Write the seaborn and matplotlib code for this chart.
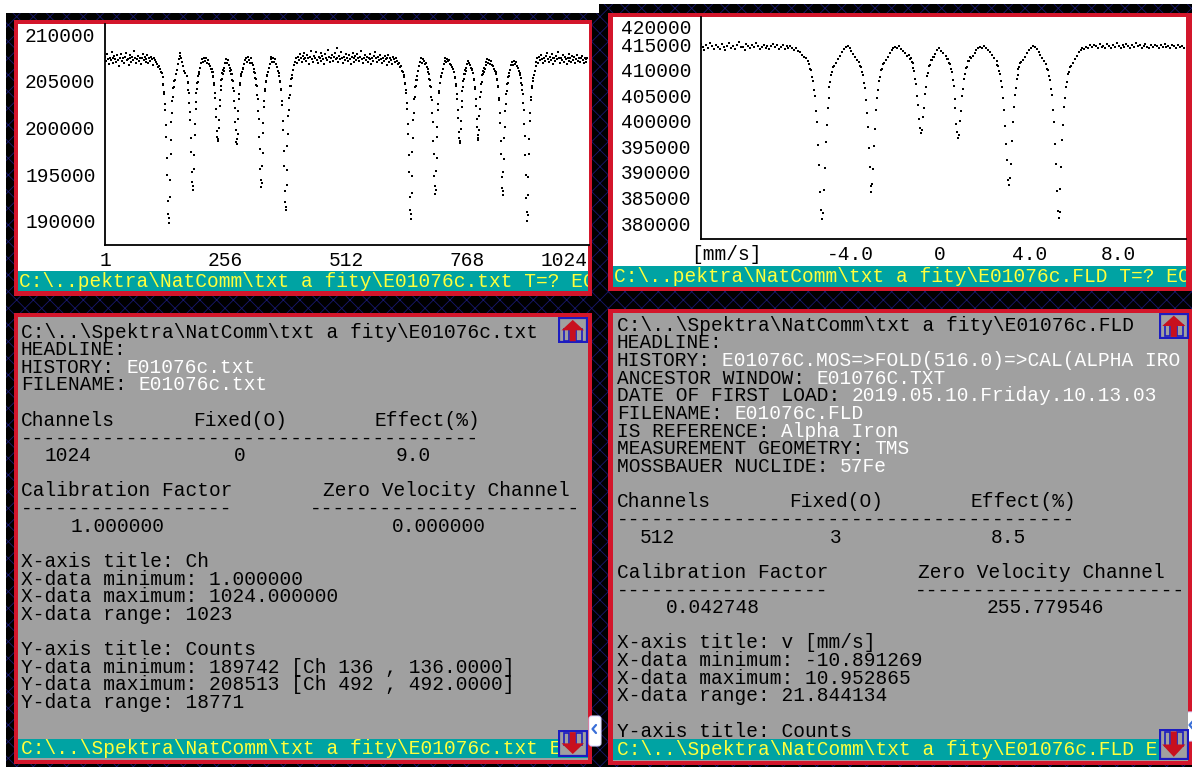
import numpy as np
import pandas as pd
import matplotlib.pyplot as plt
import seaborn as sns
from matplotlib.patches import Rectangle, Polygon, FancyBboxPatch

# ---- raw spectrum, 1024 channels (top left) ----
# baseline stretches are read every 2nd channel, the dips channel by channel
tl_base_0 = [207600, 207100, 207900, 207300, 206800, 207500, 207200, 208100, 207400, 206900,
             207700, 207300, 207000, 207800, 207200, 206600, 207500, 207900, 207100, 207400,
             206900, 207600, 208000, 207200, 207300, 206700, 207800, 207400, 207000, 207600,
             207200, 208200, 207500, 206900, 207300, 207700, 207100, 207500, 206800, 207400,
             207900, 207200, 207600, 207000, 207300, 207800, 206900, 207400, 207100, 207600,
             207300, 206700, 207500, 207200, 207000, 206800, 206500, 206600, 206300, 206000,
             205800]
tl_dip_a = [205400, 204700, 204600, 203800, 203600, 202500, 201900, 200300, 199000, 196700,
            194900, 192100, 190700, 189742, 190300, 192500, 194400, 197100, 198700, 200600,
            201500, 202800, 203300, 204200, 204300, 205000, 205100]
tl_gap_ab = [205700, 206200, 206800, 207300, 207700, 208000, 207500, 207000, 206600, 206100, 205800]
tl_dip_b = [205500, 205500, 204900, 204800, 204000, 203700, 202600, 201700, 200800, 198900,
            197400, 195200, 194100, 193300, 193700, 195500, 197000, 199200, 200400, 202000,
            202700, 203700, 204100, 204800, 204900, 205500, 205700]
tl_gap_bc = [205900, 206400, 206900, 207300, 207000, 207500, 207100, 207400, 206900, 207200,
             206800, 206600, 206300]
tl_dip_c = [206300, 206000, 205900, 205500, 205400, 204800, 204600, 203700, 203200, 202000,
            201100, 199600, 199000, 198500, 198800, 199900, 200800, 202300, 202900, 204000,
            204400, 205100, 205200, 205800, 205700, 206200, 206100]
tl_gap_cd = [206400, 206900, 207300, 206900, 207200, 206700, 206400]
tl_dip_d = [206100, 206200, 205700, 205700, 205100, 205000, 204200, 203900, 202800, 202100,
            200600, 199700, 198400, 198200, 198800, 199300, 200900, 201800, 203100, 203600,
            204600, 204800, 205500, 205700, 206000, 205900, 206300]
tl_gap_de = [206400, 206800, 207200, 207500, 207000, 207600, 207200, 206900, 207400, 206900,
             206700, 206300, 206000]
tl_dip_e = [205800, 205300, 205200, 204600, 204500, 203500, 203100, 201800, 200900, 199000,
            197700, 195500, 194400, 193650, 194000, 195900, 197300, 199400, 200500, 202200,
            202800, 203900, 204100, 204900, 205000, 205600, 205500]
tl_gap_ef = [205900, 206400, 206800, 207300, 207600, 207000, 207400, 207000, 207300, 206800,
             206500, 206100, 205800]
tl_dip_f = [205500, 205000, 204900, 204100, 204000, 202800, 202400, 200700, 199700, 197500,
            195900, 193200, 192000, 191100, 191500, 193800, 195400, 198000, 199300, 201200,
            201900, 203200, 203500, 204500, 204500, 205200, 205300]
tl_base_mid = [205600, 206200, 206700, 207000, 207400, 206900, 207600, 207200, 207900, 207400,
               207000, 207700, 207300, 208000, 207500, 207100, 207800, 207400, 206800, 207600,
               208200, 207300, 207000, 207700, 207500, 208100, 207200, 206900, 207600, 207400,
               208000, 207100, 207700, 207300, 206800, 207900, 207500, 207200, 208300, 207600,
               207000, 207400, 207800, 207100, 207600, 208000, 207300, 208513, 207500, 207000,
               207700, 207300, 208100, 207400, 206900, 207600, 207200, 207900, 207500, 207100,
               207800, 207300, 206800, 207600, 208000, 207400, 207000, 207700, 207200, 207900,
               207500, 207100, 207600, 208200, 207300, 206900, 207500, 207800, 207200, 207600,
               207000, 207400, 207900, 207300, 206800, 207500, 207100, 207700, 208100, 207400,
               207000, 207600, 207200, 207800, 207300, 206900, 207500, 207100, 207700, 207300,
               206700, 207400, 207800, 207000, 207500, 207200, 206800, 207600, 207300, 207000,
               207400, 207100, 206800, 206900, 206500, 206600, 206100, 205900, 205600]
tl_dip_g = [205400, 204800, 204700, 204000, 203700, 202600, 202000, 200400, 199300, 197000,
            195200, 192500, 191100, 190200, 190700, 193000, 194800, 197400, 198900, 200800,
            201600, 203000, 203300, 204300, 204400, 205100, 205100]
tl_gap_gh = [205500, 206100, 206600, 207000, 207400, 206900, 207300, 207100, 206800, 206900,
             206500, 206300, 205900]
tl_dip_h = [205700, 205200, 205100, 204500, 204300, 203300, 202900, 201500, 200600, 198600,
            197200, 194800, 193700, 192900, 193300, 195300, 196700, 199000, 200100, 201900,
            202500, 203700, 203900, 204800, 204800, 205500, 205400]
tl_gap_hi = [205800, 206300, 206800, 207100, 207400, 207000, 207300, 207100, 207200, 206800,
             206700, 206500, 206300]
tl_dip_i = [206300, 206000, 205900, 205400, 205300, 204700, 204500, 203600, 203100, 201900,
            201000, 199500, 198900, 198300, 198600, 199800, 200700, 202200, 202800, 203900,
            204300, 205000, 205200, 205700, 205700, 206200, 206100]
tl_gap_ij = [206400, 206800, 207100, 206900, 206700, 206400]
tl_dip_j = [206200, 206300, 205800, 205800, 205200, 205100, 204300, 204100, 203000, 202300,
            200900, 200100, 198900, 198700, 199200, 199700, 201200, 202000, 203300, 203800,
            204700, 204900, 205600, 205700, 206100, 206000, 206400]
tl_gap_jk = [206300, 206700, 207000, 207300, 206900, 207200, 206800, 207100, 206700, 206600,
             206300, 206100, 205900]
tl_dip_k = [205700, 205200, 205100, 204500, 204300, 203200, 202900, 201500, 200500, 198500,
            197100, 194700, 193500, 192760, 193200, 195200, 196600, 198900, 200000, 201800,
            202500, 203600, 203900, 204700, 204800, 205400, 205500]
tl_gap_kl = [205800, 206200, 206700, 207000, 206700, 207100, 206800, 207000, 206600, 206400,
             206100, 205800, 205600]
tl_dip_l = [205300, 204800, 204600, 204000, 203600, 202600, 201900, 200400, 199100, 197000,
            194900, 192400, 190900, 189970, 190600, 192800, 194700, 197200, 198800, 200700,
            201500, 202900, 203300, 204200, 204400, 205000, 205300]
tl_base_end = [205600, 206100, 206600, 207000, 207400, 206900, 207600, 207200, 207800, 207300,
               206900, 207500, 207100, 207700, 208000, 207300, 207000, 207600, 207200, 207900,
               207400, 206800, 207500, 207100, 207700, 207300, 208100, 207500, 206900, 207400,
               207200, 207800, 207000, 207600, 207300, 206800, 207500, 207900, 207100, 207400,
               207000, 207700, 207200, 207600, 206900, 207300, 207800, 207100, 207500, 207000,
               207400, 207700, 207200, 206900, 207500, 207300, 207000, 207400]

# (first channel, channel step, counts)
tl_parts = [(1, 2, tl_base_0), (123, 1, tl_dip_a), (151, 2, tl_gap_ab), (174, 1, tl_dip_b),
            (201, 2, tl_gap_bc), (227, 1, tl_dip_c), (254, 2, tl_gap_cd), (267, 1, tl_dip_d),
            (294, 2, tl_gap_de), (319, 1, tl_dip_e), (346, 2, tl_gap_ef), (371, 1, tl_dip_f),
            (398, 2, tl_base_mid), (636, 1, tl_dip_g), (663, 2, tl_gap_gh), (688, 1, tl_dip_h),
            (715, 2, tl_gap_hi), (740, 1, tl_dip_i), (767, 2, tl_gap_ij), (779, 1, tl_dip_j),
            (806, 2, tl_gap_jk), (831, 1, tl_dip_k), (858, 2, tl_gap_kl), (883, 1, tl_dip_l),
            (910, 2, tl_base_end)]

# ---- folded spectrum, 512 channels (top right) ----
tr_base_0 = [414700, 414200, 415100, 414500, 413900, 414800, 414300, 415300, 414600, 414100,
             414900, 414400, 414000, 415000, 414500, 413800, 414700, 415200, 414300, 414600,
             414100, 414900, 415400, 414400, 414500, 413900, 415000, 414600, 414200, 414800,
             414400, 415300, 414700, 414000, 414500, 414900, 414300, 414700, 414000, 414600,
             415000, 414400, 414800, 414100, 414500, 414900, 414000, 414600, 414200, 414700,
             414300, 413800, 414300, 413700, 413400, 413000, 412600, 412300, 411700]
tr_dip_1 = [411100, 410200, 409900, 408600, 407900, 406100, 404900, 402000, 399700, 395300,
            391400, 386000, 382600, 380700, 382000, 386500, 390800, 395900, 399100, 402600,
            404400, 406600, 407600, 409000, 409500, 410500, 410700]
tr_gap_12 = [411300, 412100, 412800, 413500, 414000, 414400, 414600, 414200, 413700, 413100,
             412600, 412000]
tr_dip_2 = [411600, 410800, 410600, 409500, 409000, 407500, 406400, 404000, 401500, 398800,
            394600, 391000, 387200, 386100, 387700, 390500, 395100, 398400, 402100, 404500,
            406000, 407900, 408600, 409900, 410200, 411200, 411300]
tr_gap_23 = [411900, 412600, 413200, 413800, 414200, 414500, 414300, 414600, 414000, 413600,
             413200, 412800]
tr_dip_3 = [412900, 412200, 412300, 411500, 411300, 410300, 409800, 408300, 407200, 404900,
            403100, 400300, 398700, 397700, 398300, 400700, 402600, 405300, 406700, 408700,
            409400, 410700, 410900, 411900, 411900, 412600, 412500]
tr_gap_34 = [413100, 413800, 414200, 413700, 413200]
tr_dip_4 = [412800, 412100, 412200, 411300, 411200, 410100, 409600, 408000, 406900, 404300,
            402500, 399300, 397900, 396650, 397300, 399900, 401900, 404800, 406300, 408300,
            409100, 410400, 410600, 411700, 411700, 412500, 412400]
tr_gap_45 = [412700, 413300, 413900, 414300, 414500, 414200, 414700, 414300, 413900, 413400,
             412900, 412400]
tr_dip_5 = [411800, 411000, 410800, 409800, 409200, 407800, 406700, 404400, 402100, 399000,
            395400, 392300, 388400, 387400, 388900, 391500, 396000, 399700, 402700, 405100,
            406400, 408200, 408900, 410100, 410500, 411300, 411500]
tr_gap_56 = [411900, 412600, 413300, 413900, 414300, 414600, 414400, 414000, 413500, 413000,
             412400, 411800]
tr_dip_6 = [411100, 410200, 410000, 408700, 408000, 406200, 405100, 402200, 399800, 395500,
            391600, 386300, 382400, 381000, 382200, 386700, 391000, 396200, 399200, 402800,
            404500, 406700, 407700, 409200, 409600, 410600, 410800]
tr_base_end = [411300, 412100, 412800, 413400, 413800, 414200, 414000, 414500, 414300, 414800,
               414400, 414900, 414600, 414200, 415000, 414500, 414700, 414300, 415100, 414600,
               414200, 414800, 414400, 415200, 414700, 414300, 414900, 414500, 415000, 414600,
               414200, 414800, 414400, 415300, 414600, 414900, 414300, 414700, 415100, 414500,
               414200, 414800, 414400, 414900, 414600, 414300, 414800, 414500, 415000, 414400,
               414700, 414300, 414900, 414600, 414200, 414800, 414500, 414700, 414300]

tr_parts = [(1, 2, tr_base_0), (119, 1, tr_dip_1), (147, 2, tr_gap_12), (171, 1, tr_dip_2),
            (199, 2, tr_gap_23), (223, 1, tr_dip_3), (251, 2, tr_gap_34), (262, 1, tr_dip_4),
            (290, 2, tr_gap_45), (315, 1, tr_dip_5), (343, 2, tr_gap_56), (367, 1, tr_dip_6),
            (395, 2, tr_base_end)]

cal_factor = 0.042748
zero_channel = 255.779546

tl_xticks = [1, 256, 512, 768, 1024]
tl_yticks = [190000, 195000, 200000, 205000, 210000]
tr_xticks = [-8, -4, 0, 4, 8]
tr_xlabels = ["[mm/s]", "-4.0", "0", "4.0", "8.0"]
tr_yticks = [380000, 385000, 390000, 395000, 400000, 405000, 410000, 415000, 420000]

# ---- text of the two info windows: (line, column, text, is_value) ----
bl_text = [
    (0, 0, r"C:\..\Spektra\NatComm\txt a fity\E01076c.txt", False),
    (1, 0, "HEADLINE:", False),
    (2, 0, "HISTORY:", False), (2, 9, "E01076c.txt", True),
    (3, 0, "FILENAME:", False), (3, 10, "E01076c.txt", True),
    (5, 0, "Channels", False), (5, 14.7, "Fixed(O)", False), (5, 30.2, "Effect(%)", False),
    (6, 0, "-" * 39, False),
    (7, 2, "1024", False), (7, 18.2, "0", False), (7, 32, "9.0", False),
    (9, 0, "Calibration Factor", False), (9, 25.8, "Zero Velocity Channel", False),
    (10, 0, "-" * 18, False), (10, 24.7, "-" * 23, False),
    (11, 4.2, "1.000000", False), (11, 31.7, "0.000000", False),
    (13, 0, "X-axis title: Ch", False),
    (14, 0, "X-data minimum: 1.000000", False),
    (15, 0, "X-data maximum: 1024.000000", False),
    (16, 0, "X-data range: 1023", False),
    (18, 0, "Y-axis title: Counts", False),
    (19, 0, "Y-data minimum: 189742 [Ch 136 , 136.0000]", False),
    (20, 0, "Y-data maximum: 208513 [Ch 492 , 492.0000]", False),
    (21, 0, "Y-data range: 18771", False),
]
br_text = [
    (0, 0, r"C:\..\Spektra\NatComm\txt a fity\E01076c.FLD", False),
    (1, 0, "HEADLINE:", False),
    (2, 0, "HISTORY:", False), (2, 9, "E01076C.MOS=>FOLD(516.0)=>CAL(ALPHA IRO", True),
    (3, 0, "ANCESTOR WINDOW:", False), (3, 17, "E01076C.TXT", True),
    (4, 0, "DATE OF FIRST LOAD:", False), (4, 20, "2019.05.10.Friday.10.13.03", True),
    (5, 0, "FILENAME:", False), (5, 10, "E01076c.FLD", True),
    (6, 0, "IS REFERENCE:", False), (6, 14, "Alpha Iron", True),
    (7, 0, "MEASUREMENT GEOMETRY:", False), (7, 22, "TMS", True),
    (8, 0, "MOSSBAUER NUCLIDE:", False), (8, 19, "57Fe", True),
    (10, 0, "Channels", False), (10, 14.7, "Fixed(O)", False), (10, 30.2, "Effect(%)", False),
    (11, 0, "-" * 39, False),
    (12, 1.9, "512", False), (12, 18.2, "3", False), (12, 31.9, "8.5", False),
    (14, 0, "Calibration Factor", False), (14, 25.7, "Zero Velocity Channel", False),
    (15, 0, "-" * 18, False), (15, 25.4, "-" * 23, False),
    (16, 4.2, "0.042748", False), (16, 31.6, "255.779546", False),
    (18, 0, "X-axis title: v [mm/s]", False),
    (19, 0, "X-data minimum: -10.891269", False),
    (20, 0, "X-data maximum: 10.952865", False),
    (21, 0, "X-data range: 21.844134", False),
    (23, 0, "Y-axis title: Counts", False),
]
tl_status = r"C:\..pektra\NatComm\txt a fity\E01076c.txt T=? EC"
tr_status = r"C:\..pektra\NatComm\txt a fity\E01076c.FLD T=? EC"
bl_status = r"C:\..\Spektra\NatComm\txt a fity\E01076c.txt E"
br_status = r"C:\..\Spektra\NatComm\txt a fity\E01076c.FLD E"


def build(parts):
    ch, counts = [], []
    for start, step, vals in parts:
        ch += list(range(start, start + step * len(vals), step))
        counts += vals
    return pd.DataFrame({"channel": ch, "counts": counts})


raw = build(tl_parts)
folded = build(tr_parts)
folded["velocity"] = (folded["channel"] - zero_channel) * cal_factor

sns.set_style("white")
plt.rcParams["font.family"] = ["Liberation Mono", "DejaVu Sans"]
plt.rcParams["hatch.linewidth"] = 0.6

W, H, DPI = 1192, 767, 100
FS = 14.05
PITCH = FS / 72 * DPI * 0.6   # monospace advance in pixels
LINE = 17.65
RED = "#d3162b"
TEAL = "#00a3a3"
YELLOW = "#ffff3c"
GRAY = "#a0a0a0"
NAVY = "#18186e"
BLUE = "#1c1cc0"

fig = plt.figure(figsize=(W / DPI, H / DPI), dpi=DPI)


def box(x0, y0, x1, y1):
    return [x0 / W, 1 - y1 / H, (x1 - x0) / W, (y1 - y0) / H]


def px_axes(x0, y0, x1, y1, color):
    # an axes whose data coordinates are the screenshot pixels
    ax = fig.add_axes(box(x0, y0, x1, y1))
    ax.set_xlim(x0, x1)
    ax.set_ylim(y1, y0)
    ax.set_xticks([])
    ax.set_yticks([])
    for s in ax.spines.values():
        s.set_visible(False)
    ax.set_facecolor(color)
    return ax


# desktop background + red window frames
bg = px_axes(0, 0, W, H, "white")
bg.add_patch(Rectangle((6, 12.5), 593, H - 12.5, facecolor="black", edgecolor=NAVY, lw=0, hatch="xx"))
bg.add_patch(Rectangle((599, 4), W - 599, H - 4, facecolor="black", edgecolor=NAVY, lw=0, hatch="xx"))
for x0, y0, x1, y1 in [(13.5, 19.5, 592, 295.5), (608, 13, 1192, 290.5),
                       (13.5, 313, 592, 763.5), (608, 308.5, 1192, 765)]:
    bg.add_patch(Rectangle((x0, y0), x1 - x0, y1 - y0, facecolor=RED, lw=0))
# little white tabs peeking out at the right of the lower windows
for x0, y0, x1, y1 in [(589, 716, 601, 746), (1186, 712, 1195, 741)]:
    bg.add_patch(FancyBboxPatch((x0, y0), x1 - x0, y1 - y0, boxstyle="round,pad=0,rounding_size=3",
                                facecolor="white", edgecolor="#d8d8ff", lw=0.8, zorder=3))
    bg.plot([x0 + 7, x0 + 3.5, x0 + 7], [y0 + 9, y0 + 13, y0 + 17], color="#3a6fd8", lw=1.6, zorder=4)

px_axes(17.5, 23.5, 588, 291, "white")
px_axes(612.5, 17, 1186, 286.5, "white")
bl_panel = px_axes(17.5, 317, 588, 759.5, GRAY)
br_panel = px_axes(613, 313, 1188, 761, GRAY)


def write(ax, x0, y0, rows):
    for line, col, text, is_value in rows:
        ax.text(x0 + col * PITCH, y0 + line * LINE + 5.8, text, fontsize=FS,
                color="white" if is_value else "black", ha="left", va="baseline", clip_on=True)


write(bl_panel, 21, 331.7, bl_text)
write(br_panel, 617, 325, br_text)


def spectrum_axes(ax, xlim, ylim, xticks, xlabels, yticks):
    ax.set_xlim(*xlim)
    ax.set_ylim(*ylim)
    ax.set_xticks(xticks, xlabels)
    ax.set_yticks(yticks, [str(t) for t in yticks])
    ax.set_xlabel("")
    ax.set_ylabel("")
    ax.set_facecolor("white")
    for side in ["top", "right"]:
        ax.spines[side].set_visible(False)
    for side in ["left", "bottom"]:
        ax.spines[side].set_color("black")
        ax.spines[side].set_linewidth(1.3)
    ax.tick_params(direction="inout", length=7.5, width=1.2, labelsize=FS, colors="black")
    ax.tick_params(axis="x", pad=0.5)
    ax.tick_params(axis="y", pad=3)


ax1 = fig.add_axes(box(105, 24, 588.5, 245))
sns.scatterplot(data=raw, x="channel", y="counts", ax=ax1, marker="s", s=2.3,
                color="black", linewidth=0, legend=False)
spectrum_axes(ax1, (1, 1026.3), (187390, 211100), tl_xticks, [str(t) for t in tl_xticks], tl_yticks)
ax1.xaxis.get_major_ticks()[-1].label1.set_horizontalalignment("right")

ax2 = fig.add_axes(box(700.5, 17, 1186, 239))
sns.scatterplot(data=folded, x="velocity", y="counts", ax=ax2, marker="s", s=2.3,
                color="black", linewidth=0, legend=False)
spectrum_axes(ax2, (-10.725, 11.017), (376867, 420347), tr_xticks, tr_xlabels, tr_yticks)
ax2.xaxis.get_major_ticks()[0].label1.set_horizontalalignment("right")
ax2.yaxis.get_major_ticks()[-1].label1.set_verticalalignment("top")

# status lines
for (x0, y0, x1, y1), text, tx in [((17.5, 271, 588, 291), tl_status, 19),
                                   ((612.5, 266, 1186, 286.5), tr_status, 614.5),
                                   ((17.5, 739, 588, 757.5), bl_status, 21),
                                   ((613, 739, 1188, 760), br_status, 617)]:
    sax = px_axes(x0, y0, x1, y1, TEAL)
    sax.text(tx, (y0 + y1) / 2 + 5.8, text, fontsize=FS, color=YELLOW,
             ha="left", va="baseline", clip_on=True)


def button(x0, y0, x1, y1, up):
    bax = px_axes(x0, y0, x1, y1, GRAY)
    w, h = x1 - x0, y1 - y0
    cx = (x0 + x1) / 2
    bax.add_patch(Rectangle((x0 + 1, y0 + 1), w - 2, h - 2, fill=False, edgecolor=BLUE, lw=1.6))
    for sx in (x0 + 0.2 * w, x1 - 0.38 * w):
        bax.add_patch(Rectangle((sx, y0 + 0.45 * h if up else y0 + 0.1 * h), 0.18 * w, 0.45 * h,
                                fill=False, edgecolor=BLUE, lw=1.2))
    if up:
        pts = [(cx, y0 + 0.1 * h), (x0 + 0.12 * w, y0 + 0.5 * h), (cx - 0.1 * w, y0 + 0.5 * h),
               (cx - 0.1 * w, y1 - 0.08 * h), (cx + 0.1 * w, y1 - 0.08 * h),
               (cx + 0.1 * w, y0 + 0.5 * h), (x1 - 0.12 * w, y0 + 0.5 * h)]
    else:
        pts = [(cx, y1 - 0.1 * h), (x0 + 0.12 * w, y0 + 0.5 * h), (cx - 0.1 * w, y0 + 0.5 * h),
               (cx - 0.1 * w, y0 + 0.08 * h), (cx + 0.1 * w, y0 + 0.08 * h),
               (cx + 0.1 * w, y0 + 0.5 * h), (x1 - 0.12 * w, y0 + 0.5 * h)]
    bax.add_patch(Polygon(pts, closed=True, facecolor="#c8101e", edgecolor="none"))


button(558, 317.3, 587.5, 343.3, True)
button(558, 730, 587.5, 756.7, False)
button(1158.6, 313, 1189, 339, True)
button(1158.6, 729, 1189, 760, False)

fig.savefig("out.png", dpi=DPI)
plt.close(fig)
